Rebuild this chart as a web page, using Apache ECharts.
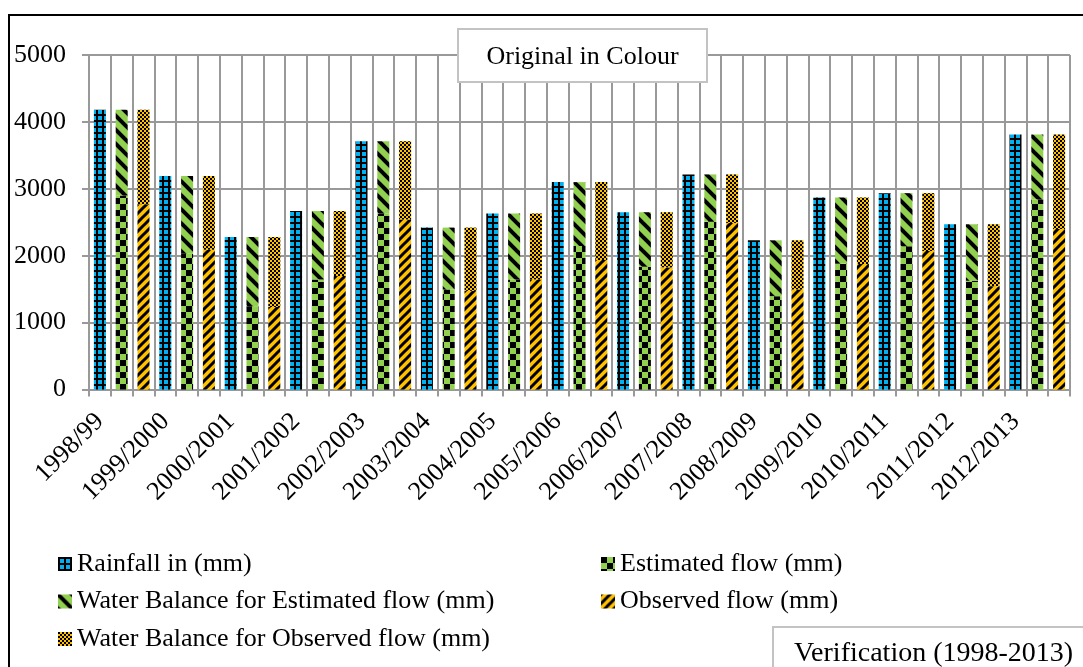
<!DOCTYPE html>
<html>
<head>
<meta charset="utf-8">
<script src="https://cdn.jsdelivr.net/npm/echarts@6/dist/echarts.min.js"></script>
<style>
  html, body { margin: 0; padding: 0; background: #fff; }
  #chart { width: 1083px; height: 667px; }
</style>
</head>
<body>
<div id="chart"></div>
<script>
// Hydrological years on the horizontal axis
const years = ['1998/99', '1999/2000', '2000/2001', '2001/2002', '2002/2003',
  '2003/2004', '2004/2005', '2005/2006', '2006/2007', '2007/2008',
  '2008/2009', '2009/2010', '2010/2011', '2011/2012', '2012/2013'];

// Annual depths in mm
const rainfall = [4180, 3190, 2280, 2670, 3710, 2420, 2630, 3100, 2650, 3215, 2230, 2870, 2935, 2470, 3810];
const estimatedFlow = [2900, 2030, 1245, 1645, 2630, 1495, 1645, 2145, 1835, 2515, 1395, 1885, 2140, 1625, 2840];
const balanceEstimated = [1280, 1160, 1035, 1025, 1080, 925, 985, 955, 815, 700, 835, 985, 795, 845, 970];
const observedFlow = [2770, 2090, 1235, 1695, 2540, 1475, 1645, 1935, 1825, 2490, 1495, 1875, 2070, 1545, 2400];
const balanceObserved = [1410, 1100, 1045, 975, 1170, 945, 985, 1165, 825, 725, 735, 995, 865, 925, 1410];

const yTicks = [0, 1000, 2000, 3000, 4000, 5000];

const SERIF = "'Liberation Serif', 'Times New Roman', serif";
const BLUE = '#00B0F0', GREEN = '#92D050', ORANGE = '#FFC000';

// Small tiled canvases used as pattern fills
function pattern(w, h, draw) {
  const c = document.createElement('canvas');
  c.width = w; c.height = h;
  const ctx = c.getContext('2d');
  draw(ctx, w, h);
  return { image: c, repeat: 'repeat' };
}
const gridFill = pattern(6, 6, (ctx, w, h) => {
  ctx.fillStyle = BLUE; ctx.fillRect(0, 0, w, h);
  ctx.fillStyle = '#000';
  ctx.fillRect(0, 0, w, 2); ctx.fillRect(0, 0, 2, h);
});
const checkFill = pattern(12, 12, (ctx, w, h) => {
  ctx.fillStyle = GREEN; ctx.fillRect(0, 0, w, h);
  ctx.fillStyle = '#000';
  ctx.fillRect(0, 0, 6, 6); ctx.fillRect(6, 6, 6, 6);
});
function stripes(s, bg, lw, down) {
  return pattern(s, s, (ctx, w, h) => {
    ctx.fillStyle = bg; ctx.fillRect(0, 0, w, h);
    ctx.strokeStyle = '#000'; ctx.lineWidth = lw;
    for (let k = -s; k <= s; k += s) {
      ctx.beginPath();
      if (down) { ctx.moveTo(k - 2, -2); ctx.lineTo(k + s + 2, s + 2); }
      else { ctx.moveTo(k - 2, s + 2); ctx.lineTo(k + s + 2, -2); }
      ctx.stroke();
    }
  });
}
const greenDiag = stripes(14, GREEN, 4, true);
const orangeDiag = stripes(9, ORANGE, 3, false);
const dotFill = pattern(4, 4, (ctx, w, h) => {
  ctx.fillStyle = ORANGE; ctx.fillRect(0, 0, w, h);
  ctx.fillStyle = '#000';
  ctx.fillRect(0, 0, 2, 2); ctx.fillRect(2, 2, 2, 2);
});

// Each year occupies three slots: rainfall, estimated stack, observed stack
const slots = years.flatMap(y => [y, '', '']);
function toSlots(values, offset) {
  const out = [];
  values.forEach(v => { for (let k = 0; k < 3; k++) out.push(k === offset ? v : '-'); });
  return out;
}

const GRID_LINE = { color: '#999', width: 2 };

function bar(name, values, offset, fill, stack) {
  return {
    name, type: 'bar', stack, barWidth: 12, barGap: '-100%',
    data: toSlots(values, offset),
    itemStyle: { color: fill },
    emphasis: { disabled: true }
  };
}

const chart = echarts.init(document.getElementById('chart'), null, { renderer: 'canvas' });
chart.setOption({
  animation: false,
  backgroundColor: '#fff',
  grid: { left: 89, top: 55, width: 981, height: 334.5 },
  xAxis: {
    type: 'category', data: slots, boundaryGap: true,
    axisLine: { lineStyle: GRID_LINE },
    axisTick: { show: true, interval: 0, length: 7, lineStyle: GRID_LINE },
    splitLine: { show: true, interval: 0, lineStyle: GRID_LINE },
    axisLabel: { interval: 2, rotate: 45, margin: 28, color: '#000', fontFamily: SERIF, fontSize: 26 }
  },
  yAxis: {
    type: 'value', min: yTicks[0], max: yTicks[yTicks.length - 1], interval: 1000,
    axisLine: { show: true, lineStyle: GRID_LINE },
    axisTick: { show: true, length: 7, lineStyle: GRID_LINE },
    splitLine: { lineStyle: GRID_LINE },
    axisLabel: { margin: 23, color: '#000', fontFamily: SERIF, fontSize: 26, formatter: v => String(v) }
  },
  legend: [
    {
      left: 58, top: 549, orient: 'vertical', padding: 0, itemGap: 7.5,
      itemWidth: 14, itemHeight: 14, icon: 'rect', selectedMode: false,
      textStyle: { color: '#000', fontFamily: SERIF, fontSize: 26, lineHeight: 30 },
      data: ['Rainfall in (mm)', 'Water Balance for Estimated flow (mm)', 'Water Balance for Observed flow (mm)']
    },
    {
      left: 601, top: 549, orient: 'vertical', padding: 0, itemGap: 7.5,
      itemWidth: 14, itemHeight: 14, icon: 'rect', selectedMode: false,
      textStyle: { color: '#000', fontFamily: SERIF, fontSize: 26, lineHeight: 30 },
      data: ['Estimated flow (mm)', 'Observed flow (mm)']
    }
  ],
  graphic: [
    { type: 'rect', z: 100, silent: true, shape: { x: 9, y: 15, width: 1200, height: 800 },
      style: { fill: 'none', stroke: '#000', lineWidth: 2 } },
    { type: 'rect', z: 100, silent: true, shape: { x: 458, y: 29, width: 249, height: 53 },
      style: { fill: '#fff', stroke: '#c3c3c3', lineWidth: 2 } },
    { type: 'text', z: 101, silent: true, x: 582.5, y: 57,
      style: { text: 'Original in Colour', fill: '#000', font: '26px ' + SERIF, align: 'center', verticalAlign: 'middle' } },
    { type: 'rect', z: 100, silent: true, shape: { x: 773, y: 627, width: 400, height: 100 },
      style: { fill: '#fff', stroke: '#c3c3c3', lineWidth: 2 } },
    { type: 'text', z: 101, silent: true, x: 794, y: 654,
      style: { text: 'Verification (1998-2013)', fill: '#000', font: '28px ' + SERIF, align: 'left', verticalAlign: 'middle' } }
  ],
  series: [
    bar('Rainfall in (mm)', rainfall, 0, gridFill, 'rain'),
    bar('Estimated flow (mm)', estimatedFlow, 1, checkFill, 'est'),
    bar('Water Balance for Estimated flow (mm)', balanceEstimated, 1, greenDiag, 'est'),
    bar('Observed flow (mm)', observedFlow, 2, orangeDiag, 'obs'),
    bar('Water Balance for Observed flow (mm)', balanceObserved, 2, dotFill, 'obs')
  ]
});
</script>
</body>
</html>
